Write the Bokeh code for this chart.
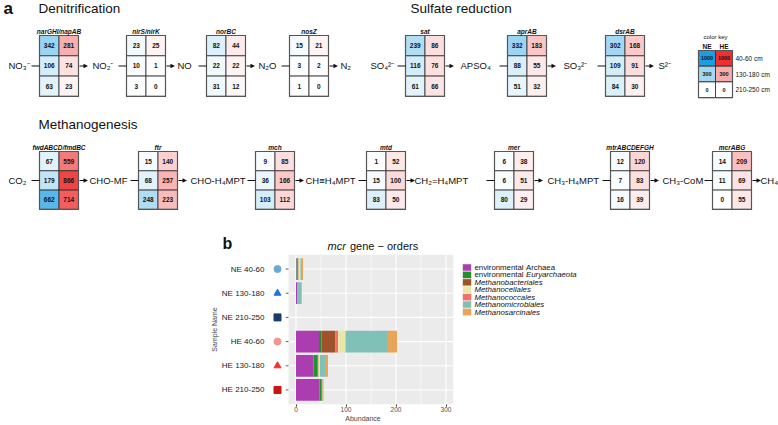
from bokeh.plotting import figure
from bokeh.models import Range1d, FixedTicker, ColumnDataSource
from bokeh.layouts import column, row
from bokeh.core.properties import value
from bokeh.embed import file_html
from bokeh.resources import INLINE

FONT = "Liberation Sans"

# ---------------- data: panel a ----------------
denit_compounds = ["NO₃⁻", "NO₂⁻", "NO", "N₂O", "N₂"]
denit_genes = ["narGHI/napAB", "nirS/nirK", "norBC", "nosZ"]
denit_ne = [[342, 106, 63], [23, 10, 3], [82, 22, 31], [15, 3, 1]]
denit_he = [[281, 74, 23], [25, 1, 0], [44, 22, 12], [21, 2, 0]]

sulf_compounds = ["SO₄²⁻", "APSO₄", "SO₃²⁻", "S²⁻"]
sulf_genes = ["sat", "aprAB", "dsrAB"]
sulf_ne = [[239, 116, 61], [332, 88, 51], [302, 109, 84]]
sulf_he = [[86, 76, 66], [183, 55, 32], [168, 91, 30]]

meth_compounds = ["CO₂", "CHO-MF", "CHO-H₄MPT", "CH≡H₄MPT", "CH₂=H₄MPT",
                  "CH₃-H₄MPT", "CH₃-CoM", "CH₄"]
meth_genes = ["fwdABCD/fmdBC", "ftr", "mch", "mtd", "mer", "mtrABCDEFGH", "mcrABG"]
meth_ne = [[67, 179, 662], [15, 68, 248], [9, 36, 103], [1, 15, 83],
           [6, 6, 80], [12, 7, 16], [14, 11, 0]]
meth_he = [[559, 866, 714], [140, 257, 223], [85, 166, 112], [52, 100, 50],
           [38, 51, 29], [120, 83, 39], [209, 69, 55]]

key_values = [1000, 300, 0]
key_labels = ["40-60 cm", "130-180 cm", "210-250 cm"]
key_groups = ["NE", "HE"]

# ---------------- data: panel b ----------------
samples = ["NE 40-60", "NE 130-180", "NE 210-250", "HE 40-60", "HE 130-180", "HE 210-250"]
sample_markers = ["circle", "triangle", "square", "circle", "triangle", "square"]
sample_colors = ["#69A9D2", "#1F72DB", "#1B3D69", "#F39393", "#EC3535", "#CC1414"]

env_archaea = [1, 2, 0, 46, 35, 47]
env_euryarchaeota = [2, 0, 0, 5, 8, 4]
methanobacteriales = [2, 0, 0, 28, 2, 1]
methanococcales = [0, 0, 0, 5, 0, 0]
methanocellales = [4, 0, 0, 15, 3, 0]
methanomicrobiales = [3, 9, 0, 83, 10, 1]
methanosarcinales = [2, 1, 0, 20, 6, 2]

legend_names = ["environmental Archaea", "environmental Euryarchaeota", "Methanobacteriales",
                "Methanocellales", "Methanococcales", "Methanomicrobiales", "Methanosarcinales"]
legend_colors = ["#AC3DB0", "#22902E", "#A0522D", "#E9E6A9", "#F06E6E", "#7FC1B6", "#E8A55A"]

x_ticks = [0, 100, 200, 300]

# ---------------- helpers ----------------
NE_RGB = (28, 158, 226)
HE_RGB = (238, 48, 48)


def shade(v, rgb):
    t = min(v / 1000.0, 1.0) ** 0.75
    c = [round(255 + (k - 255) * t) for k in rgb]
    return "#%02x%02x%02x" % tuple(c)


def tx(p, x, y, s, size, style="normal", align="left", baseline="middle", color="#111111"):
    p.text(x=[x], y=[y], text=[s], text_font=value(FONT), text_font_size=value(size),
           text_font_style=value(style), text_align=value(align),
           text_baseline=value(baseline), text_color=value(color))


# ---------------- panel a figure (1:1 pixel frame) ----------------
pa = figure(width=778, height=252, x_range=Range1d(0, 778), y_range=Range1d(252, 0),
            x_axis_type=None, y_axis_type=None, output_backend="svg",
            toolbar_location=None, min_border=0)
pa.outline_line_color = None
pa.xgrid.visible = False
pa.ygrid.visible = False

CW = 19.5  # cell width


def draw_box(p, bx, y0, rh, ne, he, gene, cw=CW, fsize="6.5px"):
    L, R, T, B, C, X, Y, S = [], [], [], [], [], [], [], []
    for r in range(3):
        for c, (vals, rgb) in enumerate(((ne, NE_RGB), (he, HE_RGB))):
            l = bx + c * cw
            t = y0 + r * rh
            L.append(l); R.append(l + cw); T.append(t); B.append(t + rh)
            C.append(shade(vals[r], rgb))
            X.append(l + cw / 2); Y.append(t + rh / 2); S.append(str(vals[r]))
    p.quad(left=L, right=R, top=T, bottom=B, fill_color=C, line_color="#2a2a2a", line_width=0.8)
    p.quad(left=[bx], right=[bx + 2 * cw], top=[y0], bottom=[y0 + 3 * rh],
           fill_color=None, line_color="#555555", line_width=1.2)
    p.text(x=X, y=Y, text=S, text_font=value(FONT), text_font_size=value(fsize),
           text_font_style=value("bold"), text_align=value("center"),
           text_baseline=value("middle"), text_color=value("#111111"))
    if gene:
        tx(p, bx + cw, y0 - 4.5, gene, "6.5px", style="bold italic", align="center")


def draw_pathway(p, compounds, label_x, genes, box_x, ne, he, y0, rh):
    ym = y0 + 1.5 * rh
    for s, lx in zip(compounds, label_x):
        tx(p, lx, ym, s, "9.5px")
    for i, bx in enumerate(box_x):
        draw_box(p, bx, y0, rh, ne[i], he[i], genes[i])
        p.segment(x0=[bx - 8], y0=[ym], x1=[bx], y1=[ym], line_color="#111111", line_width=1.1)
        ax = bx + 2 * CW
        p.segment(x0=[ax + 1], y0=[ym], x1=[ax + 6], y1=[ym], line_color="#111111", line_width=1.1)
        p.patches(xs=[[ax + 5, ax + 5, ax + 9.5]], ys=[[ym - 2.3, ym + 2.3, ym]],
                  fill_color="#111111", line_color=None)


tx(pa, 3, 7.5, "a", "17px", style="bold")
tx(pa, 38, 8, "Denitrification", "13.5px")
tx(pa, 410, 8, "Sulfate reduction", "13.5px")
tx(pa, 38, 123.5, "Methanogenesis", "13.5px")

draw_pathway(pa, denit_compounds, [8, 92, 177, 258, 340], denit_genes,
             [39, 126, 206, 289], denit_ne, denit_he, 35, 20.3)
draw_pathway(pa, sulf_compounds, [370, 460, 563, 658], sulf_genes,
             [405, 507, 605], sulf_ne, sulf_he, 35, 20.3)
draw_pathway(pa, meth_compounds, [8, 89, 190, 305, 414, 547, 662, 760], meth_genes,
             [39, 138, 255, 366, 494, 610, 712], meth_ne, meth_he, 151, 19.3)

# color key
KX, KY, KW, KH = 698, 50, 17, 15.7
draw_box(pa, KX, KY, KH, key_values, key_values, None, cw=KW, fsize="5.5px")
tx(pa, KX + KW, 36, "color key", "6px", align="center")
for i, g in enumerate(key_groups):
    tx(pa, KX + KW * (i + 0.5), 45.5, g, "6.5px", style="bold", align="center")
for i, lab in enumerate(key_labels):
    tx(pa, KX + 2 * KW + 3, KY + KH * (i + 0.5), lab, "6.5px")

# panel b label + title
tx(pa, 222, 242.5, "b", "16px", style="bold")
tx(pa, 327, 245.5, "mcr", "11px", style="italic")
tx(pa, 349.5, 245.5, "gene − orders", "11px")

# ---------------- panel b: stacked bars (frame 272..453 px) ----------------
yy = list(range(1, len(samples) + 1))
src = ColumnDataSource(dict(
    y=yy, envA=env_archaea, envE=env_euryarchaeota, mbact=methanobacteriales,
    mcocc=methanococcales, mcell=methanocellales, mmicro=methanomicrobiales,
    msarc=methanosarcinales))
stack_keys = ["envA", "envE", "mbact", "mcocc", "mcell", "mmicro", "msarc"]
stack_cols = [legend_colors[0], legend_colors[1], legend_colors[2], legend_colors[4],
              legend_colors[3], legend_colors[5], legend_colors[6]]

pb = figure(width=457, height=172, x_range=Range1d(-47, 315), y_range=Range1d(6.6, 0.4),
            output_backend="svg", toolbar_location=None,
            min_border_left=272, min_border_right=4, min_border_top=2, min_border_bottom=18)
pb.outline_line_color = None
pb.xgrid.visible = False
pb.ygrid.visible = False
pb.background_fill_color = "white"
pb.border_fill_color = "white"

pb.quad(left=[-15], right=[315], top=[0.4], bottom=[6.6], fill_color="#EBEBEB", line_color=None)
minor = [50, 150, 250]
pb.segment(x0=minor, y0=[0.4] * 3, x1=minor, y1=[6.6] * 3, line_color="white", line_width=0.5)
pb.segment(x0=x_ticks, y0=[0.4] * 4, x1=x_ticks, y1=[6.6] * 4, line_color="white", line_width=1.1)
pb.segment(x0=[-15] * 6, y0=yy, x1=[315] * 6, y1=yy, line_color="white", line_width=1.1)
pb.hbar_stack(stack_keys, y="y", height=0.9, color=stack_cols, source=src, line_color=None)
pb.segment(x0=[-20.5] * 6, y0=yy, x1=[-15] * 6, y1=yy, line_color="#333333", line_width=0.8)
pb.scatter(x=[-37] * 6, y=yy, marker=sample_markers, color=sample_colors, size=7)

pb.yaxis.ticker = FixedTicker(ticks=yy)
pb.yaxis.major_label_overrides = {i: s for i, s in zip(yy, samples)}
pb.yaxis.major_tick_line_color = None
pb.yaxis.minor_tick_line_color = None
pb.yaxis.axis_line_color = None
pb.yaxis.major_label_standoff = 2
pb.yaxis.major_label_text_font = FONT
pb.yaxis.major_label_text_font_size = "8px"
pb.yaxis.major_label_text_color = "#1a1a1a"
pb.yaxis.axis_label = "Sample Name"
pb.yaxis.axis_label_text_font = FONT
pb.yaxis.axis_label_text_font_size = "7px"
pb.yaxis.axis_label_text_font_style = "normal"
pb.yaxis.axis_label_standoff = 1

pb.xaxis.ticker = FixedTicker(ticks=x_ticks)
pb.xaxis.axis_line_color = None
pb.xaxis.major_tick_out = 2
pb.xaxis.major_tick_in = 0
pb.xaxis.major_tick_line_color = "#333333"
pb.xaxis.minor_tick_line_color = None
pb.xaxis.major_label_standoff = 0
pb.xaxis.major_label_text_font = FONT
pb.xaxis.major_label_text_font_size = "6.5px"
pb.xaxis.major_label_text_color = "#4d4d4d"
pb.xaxis.axis_label = "Abundance"
pb.xaxis.axis_label_text_font = FONT
pb.xaxis.axis_label_text_font_size = "7px"
pb.xaxis.axis_label_text_font_style = "normal"
pb.xaxis.axis_label_standoff = 0

# ---------------- legend (1:1 pixel frame) ----------------
pl = figure(width=321, height=172, x_range=Range1d(457, 778), y_range=Range1d(424, 252),
            x_axis_type=None, y_axis_type=None, output_backend="svg",
            toolbar_location=None, min_border=0)
pl.outline_line_color = None
pl.xgrid.visible = False
pl.ygrid.visible = False
LY0, LDY = 267, 8.5
ly = [LY0 + LDY * i for i in range(len(legend_names))]
pl.quad(left=[462] * 7, right=[471] * 7, top=[v - LDY / 2 for v in ly],
        bottom=[v + LDY / 2 for v in ly], fill_color=legend_colors, line_color="white", line_width=0.6)
for i, name in enumerate(legend_names):
    if name.startswith("environmental"):
        first, rest = name.split(" ", 1)
        tx(pl, 474, ly[i], first, "7.8px")
        tx(pl, 525.5, ly[i], rest, "7.8px", style=("italic" if i == 1 else "normal"))
    else:
        tx(pl, 474, ly[i], name, "7.8px", style="italic")

layout = column(pa, row(pb, pl))
open("out.html", "w").write(file_html(layout, INLINE))
